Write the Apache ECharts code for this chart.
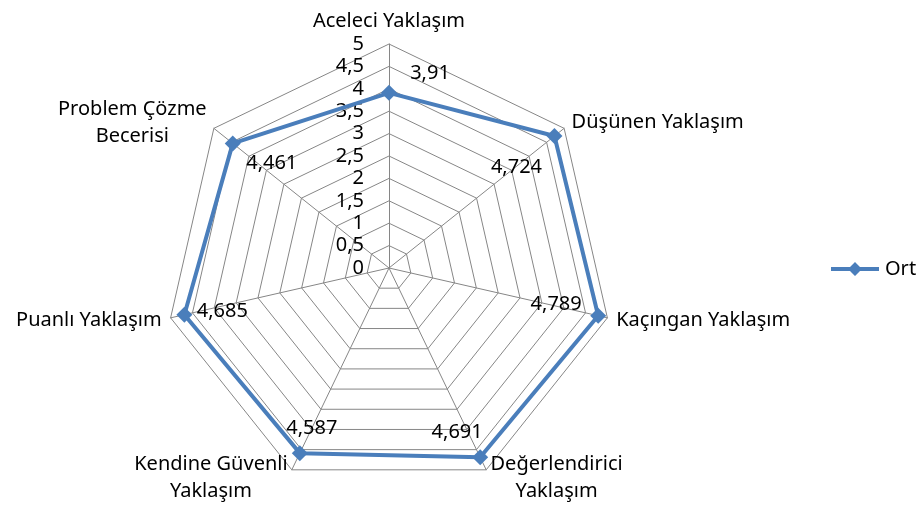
<!DOCTYPE html>
<html>
<head>
<meta charset="utf-8">
<script src="https://cdn.jsdelivr.net/npm/echarts@6/dist/echarts.min.js"></script>
<style>
  html, body { margin: 0; padding: 0; background: #fff; }
  #chart { width: 919px; height: 509px; }
</style>
</head>
<body>
<div id="chart"></div>
<script>
// categories in clockwise order starting at the top
var categories = ['Aceleci Yaklaşım', 'Düşünen Yaklaşım', 'Kaçıngan Yaklaşım', 'Değerlendirici\nYaklaşım',
  'Kendine Güvenli\nYaklaşım', 'Puanlı Yaklaşım', 'Problem Çözme\nBecerisi'];
var ortValues = [3.91, 4.724, 4.789, 4.691, 4.587, 4.685, 4.461];
var axisMax = 5;
var axisSplits = 10;

// label offset for each point, same order as categories (style only)
var labelOffsets = [[41, -20], [-38, 31], [-42, -11], [-23, -25], [12, -25], [38, -3], [39, 20]];

// echarts radar goes counter-clockwise, so reverse everything after the first item
function ccw(arr) {
  return [arr[0]].concat(arr.slice(1).reverse());
}

var font = 'Noto Sans';
var fontSize = 20;
var cats = ccw(categories);
var vals = ccw(ortValues);

var measure = document.createElement('canvas').getContext('2d');
measure.font = fontSize + 'px "' + font + '"';
function nameFormatter(name) {
  var lines = name.split('\n');
  var w = Math.max.apply(null, lines.map(function (l) { return measure.measureText(l).width; }));
  return lines.map(function (l) { return '{c' + Math.ceil(w) + '|' + l + '}'; }).join('\n');
}
var rich = {};
cats.forEach(function (c) {
  var lines = c.split('\n');
  var w = Math.ceil(Math.max.apply(null, lines.map(function (l) { return measure.measureText(l).width; })));
  rich['c' + w] = { width: w, align: 'center', fontFamily: font, fontSize: fontSize, color: '#000', lineHeight: 27 };
});

var indicators = cats.map(function (c, i) {
  return { name: c, max: axisMax, min: 0, axisLabel: { show: i === 0 } };
});

var fmt = function (v) { return String(v).replace('.', ','); };

// main line, then one invisible copy per point that only carries that point's label
var seriesData = [{ value: vals, name: 'Ort' }];
ortValues.forEach(function (v, i) {
  seriesData.push({
    value: vals,
    name: 'lbl' + i,
    symbolSize: 1,
    lineStyle: { opacity: 0 },
    itemStyle: { color: 'rgba(0,0,0,0)' },
    label: {
      show: true,
      position: 'inside',
      offset: labelOffsets[i],
      fontFamily: font,
      fontSize: fontSize,
      color: '#000',
      formatter: function (p) { return p.value === v ? fmt(p.value) : ''; }
    }
  });
});

var chart = echarts.init(document.getElementById('chart'));
chart.setOption({
  animation: false,
  legend: {
    data: ['Ort'],
    left: 826,
    top: 254,
    itemWidth: 50,
    itemHeight: 14,
    icon: 'path://M0,5L19,5L24,0L29,5L48,5L48,9L29,9L24,14L19,9L0,9Z',
    textStyle: { fontFamily: font, fontSize: fontSize, color: '#000' }
  },
  radar: {
    center: [389, 268],
    radius: 224,
    startAngle: 90,
    splitNumber: axisSplits,
    shape: 'polygon',
    indicator: indicators,
    axisName: { color: '#000', fontFamily: font, fontSize: fontSize, formatter: nameFormatter, rich: rich },
    nameGap: 9,
    axisLine: { lineStyle: { color: '#868686', width: 1 } },
    splitLine: { lineStyle: { color: '#868686', width: 1 } },
    splitArea: { show: false },
    axisTick: { show: false },
    axisLabel: {
      color: '#000',
      fontFamily: font,
      fontSize: fontSize,
      margin: 25,
      formatter: fmt
    }
  },
  series: [{
    name: 'Ort',
    type: 'radar',
    symbol: 'diamond',
    symbolSize: 16,
    lineStyle: { color: '#4a7ebb', width: 4 },
    itemStyle: { color: '#4a7ebb' },
    data: seriesData
  }]
});
</script>
</body>
</html>
